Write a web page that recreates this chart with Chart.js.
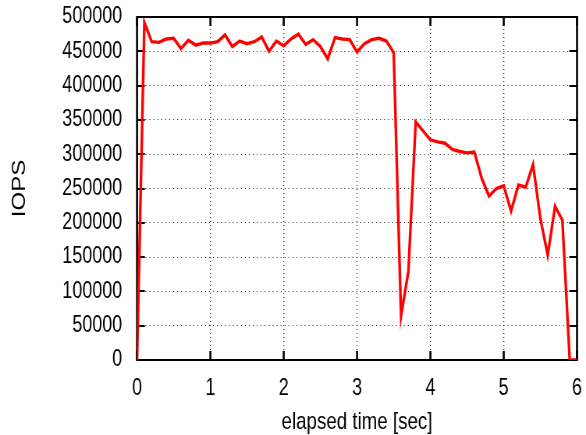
<!DOCTYPE html>
<html lang="en">
  <head>
    <meta charset="UTF-8" />
    <title>IOPS</title>
    <script src="https://cdn.jsdelivr.net/npm/chart.js@4/dist/chart.umd.min.js"></script>
    <style>
      html, body { margin: 0; padding: 0; background: #fff; overflow: hidden; }
      /* the reference is squeezed horizontally (narrow glyphs), so draw wide and scale down */
      .chart-container {
        position: relative;
        width: 751px;
        height: 435px;
        transform: scaleX(0.7803);
        transform-origin: 0 0;
      }
    </style>
  </head>
  <body>
    <div class="chart-container">
      <canvas id="chart-iops" width="751" height="435"></canvas>
    </div>
    <script>
      // elapsed time [sec]
      let times = [
        0.0, 0.1, 0.2, 0.3, 0.4, 0.5, 0.6, 0.7, 0.8, 0.9,
        1.0, 1.1, 1.2, 1.3, 1.4, 1.5, 1.6, 1.7, 1.8, 1.9,
        2.0, 2.1, 2.2, 2.3, 2.4, 2.5, 2.6, 2.7, 2.8, 2.9,
        3.0, 3.1, 3.2, 3.3, 3.4, 3.5, 3.6, 3.7, 3.8, 3.9,
        4.0, 4.1, 4.2, 4.3, 4.4, 4.5, 4.6, 4.7, 4.8, 4.9,
        5.0, 5.1, 5.2, 5.3, 5.4, 5.5, 5.6, 5.7, 5.8, 5.9,
        6.0
      ];
      let iops = [
        0, 492000, 464000, 463000, 468000, 469000, 454000, 466000, 459000, 462000,
        462000, 464000, 474000, 457000, 465000, 461000, 464000, 471000, 450000, 465000,
        458000, 468000, 475000, 460000, 467000, 457000, 439000, 470000, 468000, 467000,
        449000, 461000, 467000, 469000, 465000, 448000, 64000, 129000, 347000, 334000,
        321000, 318000, 316000, 307000, 304000, 302000, 303000, 265000, 239000, 250000,
        254000, 217000, 255000, 252000, 285000, 206000, 153000, 224000, 204000, 0,
        0
      ];
      let xTicks = [0, 1, 2, 3, 4, 5, 6];
      let yTicks = [0, 50000, 100000, 150000, 200000, 250000, 300000, 350000, 400000, 450000, 500000];

      let font = "'Liberation Sans', Arial, sans-serif";

      // gnuplot style frame with mirrored inward ticks
      let frame = {
        id: 'frame',
        beforeDatasetsDraw(chart) {
          let ctx = chart.ctx;
          let a = chart.chartArea;
          let xs = chart.scales.x, ys = chart.scales.y;
          ctx.save();
          ctx.strokeStyle = '#000';
          ctx.lineWidth = 2.6;
          xTicks.forEach(v => {
            let px = xs.getPixelForValue(v);
            ctx.beginPath();
            ctx.moveTo(px, a.bottom); ctx.lineTo(px, a.bottom - 9);
            ctx.moveTo(px, a.top); ctx.lineTo(px, a.top + 9);
            ctx.stroke();
          });
          ctx.beginPath();
          ctx.moveTo(a.left, a.top); ctx.lineTo(a.left, a.bottom);
          ctx.moveTo(a.right, a.top); ctx.lineTo(a.right, a.bottom);
          ctx.stroke();
          ctx.lineWidth = 2;
          yTicks.forEach(v => {
            let py = Math.round(ys.getPixelForValue(v));
            ctx.beginPath();
            ctx.moveTo(a.left, py); ctx.lineTo(a.left + 10, py);
            ctx.moveTo(a.right, py); ctx.lineTo(a.right - 10, py);
            ctx.stroke();
          });
          ctx.beginPath();
          ctx.moveTo(a.left - 1.3, a.top); ctx.lineTo(a.right + 1.3, a.top);
          ctx.moveTo(a.left - 1.3, a.bottom); ctx.lineTo(a.right + 1.3, a.bottom);
          ctx.stroke();
          ctx.restore();
        }
      };

      new Chart('chart-iops', {
        type: 'line',
        data: {
          datasets: [{
            data: times.map((t, i) => ({ x: t, y: iops[i] })),
            borderColor: 'rgb(255, 0, 0)',
            borderWidth: 3.4,
            pointRadius: 0,
            tension: 0,
            fill: false
          }]
        },
        options: {
          responsive: false,
          animation: false,
          layout: { autoPadding: false, padding: { top: 17, right: 11.5, left: 7, bottom: 0 } },
          plugins: { legend: { display: false }, tooltip: { enabled: false } },
          scales: {
            x: {
              type: 'linear',
              min: 0,
              max: 6,
              afterFit: s => { s.height = 75; s.paddingLeft = 0; s.paddingRight = 0; },
              afterBuildTicks: s => { s.ticks = xTicks.map(v => ({ value: v })); },
              ticks: { color: '#000', padding: 15, font: { family: font, size: 23 } },
              grid: { color: 'rgba(0,0,0,0.75)', lineWidth: 1.3, drawTicks: false },
              border: { display: false, dash: [1, 3] },
              title: {
                display: true,
                text: 'elapsed time [sec]',
                color: '#000',
                font: { family: font, size: 24 },
                padding: { top: 0, bottom: -2 }
              }
            },
            y: {
              min: 0,
              max: 500000,
              afterFit: s => { s.width = 168.6; s.paddingTop = 0; s.paddingBottom = 0; },
              afterBuildTicks: s => { s.ticks = yTicks.map(v => ({ value: v })); },
              ticks: {
                color: '#000',
                padding: 19,
                font: { family: font, size: 23 },
                callback: v => String(v)
              },
              grid: { color: 'rgba(0,0,0,0.75)', lineWidth: 1, drawTicks: false },
              border: { display: false, dash: [1.3, 3.8] },
              title: {
                display: true,
                text: 'IOPS',
                color: '#000',
                font: { family: font, size: 24 },
                padding: { top: 4, bottom: 0 }
              }
            }
          }
        },
        plugins: [frame]
      });
    </script>
  </body>
</html>
